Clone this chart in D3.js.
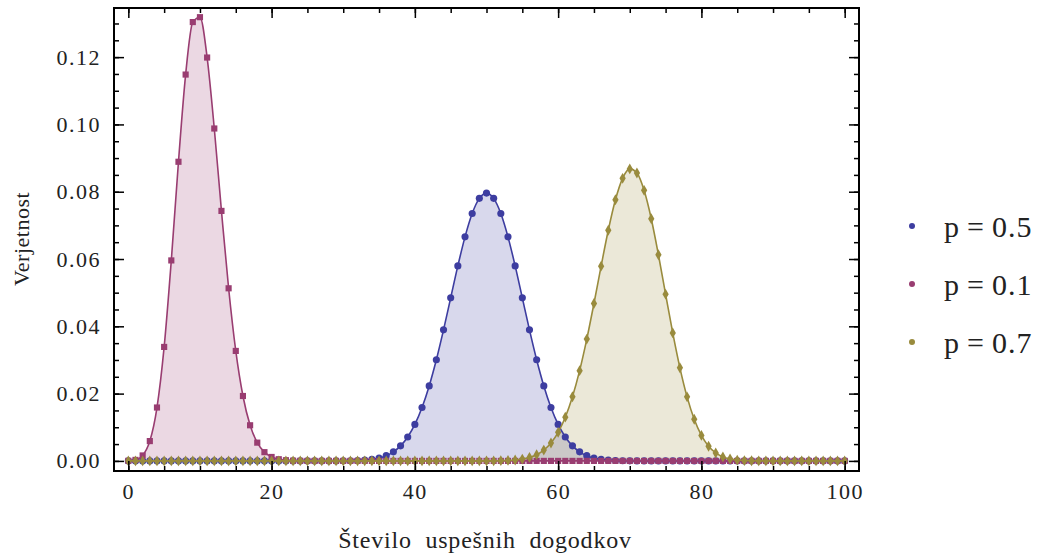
<!DOCTYPE html>
<html>
<head>
<meta charset="utf-8">
<script src="https://cdn.jsdelivr.net/npm/d3@7"></script>
<style>
  body { margin: 0; background: #fff; }
  svg { display: block; }
  svg text { font-family: "Liberation Serif", "Times New Roman", serif; }
</style>
</head>
<body>
<svg id="chart"></svg>
<script>
// number of successes k = 0..100
const counts = d3.range(0, 101);

// p = 0.5
const valuesP05 = [
  0, 0, 0, 0, 0, 0, 0, 0, 0, 0,
  0, 0, 0, 0, 0, 0, 0, 0, 0, 0,
  0, 0, 0, 0, 0, 0, 0, 0, 0, 0,
  0.00002, 0.00005, 0.00011, 0.00023, 0.00046, 0.00086, 0.00156, 0.00270, 0.00447, 0.00711,
  0.01084, 0.01587, 0.02229, 0.03007, 0.03895, 0.04847, 0.05796, 0.06659, 0.07353, 0.07803,
  0.07959, 0.07803, 0.07353, 0.06659, 0.05796, 0.04847, 0.03895, 0.03007, 0.02229, 0.01587,
  0.01084, 0.00711, 0.00447, 0.00270, 0.00156, 0.00086, 0.00046, 0.00023, 0.00011, 0.00005,
  0.00002, 0, 0, 0, 0, 0, 0, 0, 0, 0,
  0, 0, 0, 0, 0, 0, 0, 0, 0, 0,
  0, 0, 0, 0, 0, 0, 0, 0, 0, 0,
  0
];

// p = 0.1
const valuesP01 = [
  0.00003, 0.00030, 0.00162, 0.00589, 0.01587, 0.03387, 0.05958, 0.08890, 0.11482, 0.13042,
  0.13187, 0.11988, 0.09879, 0.07430, 0.05130, 0.03268, 0.01929, 0.01059, 0.00543, 0.00260,
  0.00117, 0.00050, 0.00020, 0.00007, 0.00003, 0, 0, 0, 0, 0,
  0, 0, 0, 0, 0, 0, 0, 0, 0, 0,
  0, 0, 0, 0, 0, 0, 0, 0, 0, 0,
  0, 0, 0, 0, 0, 0, 0, 0, 0, 0,
  0, 0, 0, 0, 0, 0, 0, 0, 0, 0,
  0, 0, 0, 0, 0, 0, 0, 0, 0, 0,
  0, 0, 0, 0, 0, 0, 0, 0, 0, 0,
  0, 0, 0, 0, 0, 0, 0, 0, 0, 0,
  0
];

// p = 0.7
const valuesP07 = [
  0, 0, 0, 0, 0, 0, 0, 0, 0, 0,
  0, 0, 0, 0, 0, 0, 0, 0, 0, 0,
  0, 0, 0, 0, 0, 0, 0, 0, 0, 0,
  0, 0, 0, 0, 0, 0, 0, 0, 0, 0,
  0, 0, 0, 0, 0, 0, 0, 0, 0, 0,
  0, 0, 0.00007, 0.00014, 0.00028, 0.00055, 0.00103, 0.00185, 0.00321, 0.00532,
  0.00849, 0.01299, 0.01907, 0.02683, 0.03620, 0.04678, 0.05788, 0.06854, 0.07761, 0.08398,
  0.08678, 0.08556, 0.08041, 0.07197, 0.06127, 0.04956, 0.03804, 0.02767, 0.01903, 0.01237,
  0.00758, 0.00436, 0.00236, 0.00119, 0.00056, 0.00025, 0.00010, 0.00004, 0.00001, 0,
  0, 0, 0, 0, 0, 0, 0, 0, 0, 0,
  0
];

const seriesLabels = ["p\u2009=\u20090.5", "p\u2009=\u20090.1", "p\u2009=\u20090.7"];
const xTickValues = [0, 20, 40, 60, 80, 100];
const yTickValues = [0, 0.02, 0.04, 0.06, 0.08, 0.10, 0.12];
const xTitle = "Število  uspešnih  dogodkov";
const yTitle = "Verjetnost";

const width = 1040;
const height = 557;
const plot = { left: 114, right: 859, top: 8, bottom: 471 };

const colors = ["rgb(61,61,160)", "rgb(153,61,113)", "rgb(153,139,61)"];
const symbols = [d3.symbolCircle, d3.symbolSquare, d3.symbolDiamond];
const symbolSizes = [40, 38, 34];

const series = [valuesP05, valuesP01, valuesP07].map((vals, i) => ({
  label: seriesLabels[i],
  color: colors[i],
  symbol: symbols[i],
  size: symbolSizes[i],
  points: counts.map((k, j) => ({ k: k, v: vals[j] }))
}));

const svg = d3.select("#chart")
  .attr("width", width)
  .attr("height", height);

const x = d3.scaleLinear().domain([-2, 102]).range([plot.left, plot.right]);
const y = d3.scaleLinear().domain([-0.003, 0.1346]).range([plot.bottom, plot.top]);

svg.append("clipPath").attr("id", "clip")
  .append("rect")
  .attr("x", plot.left).attr("y", plot.top)
  .attr("width", plot.right - plot.left).attr("height", plot.bottom - plot.top);

const g = svg.append("g").attr("clip-path", "url(#clip)");

const area = d3.area()
  .x(d => x(d.k))
  .y0(y(0))
  .y1(d => y(d.v))
  .curve(d3.curveMonotoneX);

const line = d3.line()
  .x(d => x(d.k))
  .y(d => y(d.v))
  .curve(d3.curveMonotoneX);

//fills
series.forEach(s => {
  g.append("path")
    .datum(s.points)
    .attr("d", area)
    .attr("fill", s.color)
    .attr("fill-opacity", 0.2);
});

//lines and markers
series.forEach(s => {
  g.append("path")
    .datum(s.points)
    .attr("d", line)
    .attr("fill", "none")
    .attr("stroke", s.color)
    .attr("stroke-width", 1.6);

  g.selectAll(null)
    .data(s.points)
    .enter()
    .append("path")
      .attr("d", d3.symbol().type(s.symbol).size(s.size))
      .attr("transform", d => `translate(${x(d.k)},${y(d.v)})`)
      .attr("fill", s.color);
});

//axes: ticks point inward, on all four sides
function hideDomain(sel) { sel.select(".domain").remove(); }
const tickStyle = sel => sel.selectAll(".tick line").attr("stroke", "#000").attr("stroke-width", 1.5);
const labelStyle = sel => sel.selectAll("text")
  .attr("fill", "#222")
  .style("font-family", "'Liberation Serif', 'Times New Roman', serif")
  .style("font-size", "22px")
  .attr("letter-spacing", "1.5px");

const xMinor = d3.range(0, 101, 5);
const yMinor = d3.range(0, 0.1301, 0.005);

svg.append("g").attr("transform", `translate(0,${plot.bottom})`)
  .call(d3.axisBottom(x).tickValues(xMinor).tickSize(-5).tickFormat(""))
  .call(hideDomain).call(tickStyle);
svg.append("g").attr("transform", `translate(0,${plot.bottom})`)
  .call(d3.axisBottom(x).tickValues(xTickValues).tickSize(-10).tickPadding(12).tickFormat(d3.format("d")))
  .call(hideDomain).call(tickStyle).call(labelStyle);

svg.append("g").attr("transform", `translate(0,${plot.top})`)
  .call(d3.axisTop(x).tickValues(xMinor).tickSize(-5).tickFormat(""))
  .call(hideDomain).call(tickStyle);
svg.append("g").attr("transform", `translate(0,${plot.top})`)
  .call(d3.axisTop(x).tickValues(xTickValues).tickSize(-10).tickFormat(""))
  .call(hideDomain).call(tickStyle);

svg.append("g").attr("transform", `translate(${plot.left},0)`)
  .call(d3.axisLeft(y).tickValues(yMinor).tickSize(-5).tickFormat(""))
  .call(hideDomain).call(tickStyle);
svg.append("g").attr("transform", `translate(${plot.left},0)`)
  .call(d3.axisLeft(y).tickValues(yTickValues).tickSize(-10).tickPadding(13).tickFormat(d3.format(".2f")))
  .call(hideDomain).call(tickStyle).call(labelStyle);

svg.append("g").attr("transform", `translate(${plot.right},0)`)
  .call(d3.axisRight(y).tickValues(yMinor).tickSize(-5).tickFormat(""))
  .call(hideDomain).call(tickStyle);
svg.append("g").attr("transform", `translate(${plot.right},0)`)
  .call(d3.axisRight(y).tickValues(yTickValues).tickSize(-10).tickFormat(""))
  .call(hideDomain).call(tickStyle);

//frame
svg.append("rect")
  .attr("x", plot.left).attr("y", plot.top)
  .attr("width", plot.right - plot.left).attr("height", plot.bottom - plot.top)
  .attr("fill", "none").attr("stroke", "#000").attr("stroke-width", 2);

//axis titles
svg.append("text")
  .attr("x", 485)
  .attr("y", 548)
  .attr("text-anchor", "middle")
  .attr("fill", "#222")
  .style("font-size", "24px")
  .attr("letter-spacing", "0.8px")
  .style("white-space", "pre")
  .text(xTitle);

svg.append("text")
  .attr("transform", "translate(29,239) rotate(-90)")
  .attr("text-anchor", "middle")
  .attr("fill", "#222")
  .style("font-size", "22px")
  .attr("letter-spacing", "0.5px")
  .text(yTitle);

//legend
const legend = svg.append("g");
series.forEach((s, i) => {
  const ly = [226, 284, 342][i];
  legend.append("circle")
    .attr("cx", 912).attr("cy", ly).attr("r", 3)
    .attr("fill", s.color);
  legend.append("text")
    .attr("x", 944).attr("y", ly + 11)
    .attr("fill", "#222")
    .style("font-size", "30px")
    .attr("letter-spacing", "1px")
    .text(s.label);
});
</script>
</body>
</html>
